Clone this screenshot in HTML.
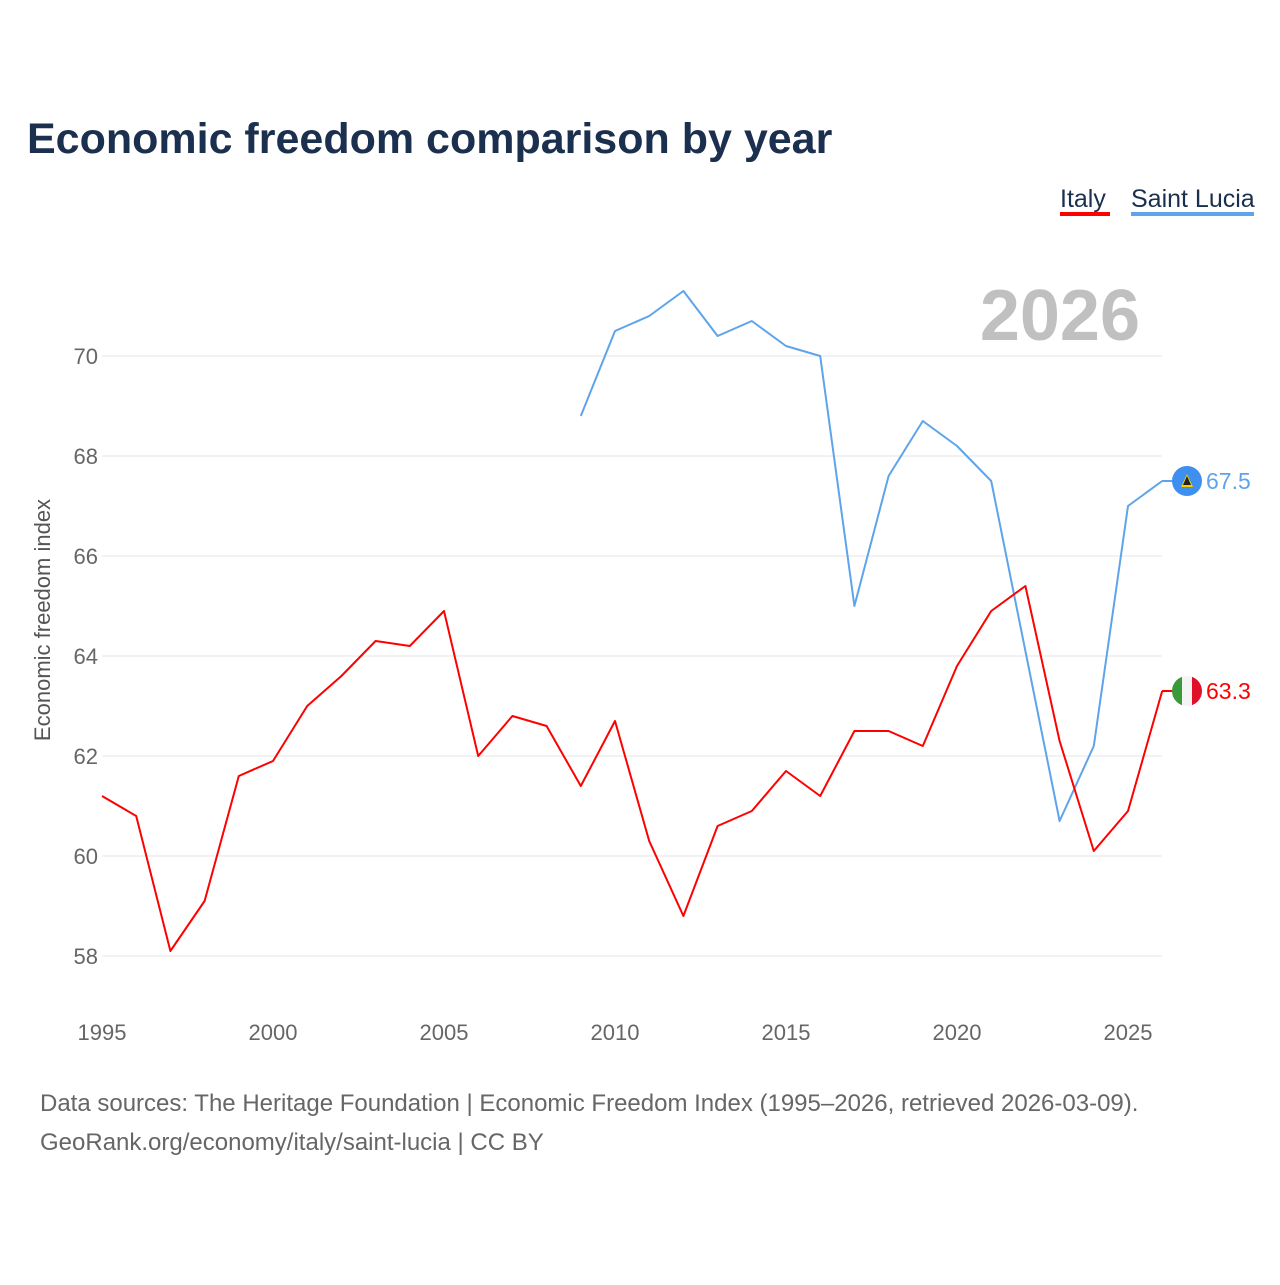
<!DOCTYPE html>
<html><head><meta charset="utf-8">
<style>
body{margin:0;background:#fff;font-family:"Liberation Sans",sans-serif;}
svg text{font-family:"Liberation Sans",sans-serif;}
</style></head>
<body>
<svg width="1280" height="1280" viewBox="0 0 1280 1280" id="chart">
<defs><clipPath id="itclip"><circle id="itclipc" cx="1187" cy="691" r="15"/></clipPath></defs>
<rect width="1280" height="1280" fill="#fff"/>
<text x="27" y="153" font-size="43" font-weight="bold" fill="#1b2f4e">Economic freedom comparison by year</text>
<g>
<text x="1060" y="207" font-size="25" fill="#1b2f4e">Italy</text>
<rect x="1060" y="212" width="50" height="4" fill="#ff0000"/>
</g>
<g>
<text x="1131" y="207" font-size="25" fill="#1b2f4e">Saint Lucia</text>
<rect x="1131" y="212" width="123" height="4" fill="#5ea4ea"/>
</g>
<text x="1140" y="340" font-size="72" font-weight="bold" fill="#c0c0c0" text-anchor="end">2026</text>
<g id="grid"></g>
<g id="xticks"></g>
<g id="series"></g>
<text transform="translate(50,620) rotate(-90)" font-size="22" fill="#555" text-anchor="middle">Economic freedom index</text>
<text x="40" y="1111" font-size="24" fill="#666">Data sources: The Heritage Foundation | Economic Freedom Index (1995–2026, retrieved 2026-03-09).</text>
<text x="40" y="1150" font-size="24" fill="#666">GeoRank.org/economy/italy/saint-lucia | CC BY</text>
</svg>
<script>
const years = [1995,1996,1997,1998,1999,2000,2001,2002,2003,2004,2005,2006,2007,2008,2009,2010,2011,2012,2013,2014,2015,2016,2017,2018,2019,2020,2021,2022,2023,2024,2025,2026];
const italy = [61.2,60.8,58.1,59.1,61.6,61.9,63.0,63.6,64.3,64.2,64.9,62.0,62.8,62.6,61.4,62.7,60.3,58.8,60.6,60.9,61.7,61.2,62.5,62.5,62.2,63.8,64.9,65.4,62.3,60.1,60.9,63.3];
const saintLucia = [null,null,null,null,null,null,null,null,null,null,null,null,null,null,68.8,70.5,70.8,71.3,70.4,70.7,70.2,70.0,65.0,67.6,68.7,68.2,67.5,64.1,60.7,62.2,67.0,67.5];
const yTicks = [58,60,62,64,66,68,70];
const xTicks = [1995,2000,2005,2010,2015,2020,2025];
const NS="http://www.w3.org/2000/svg";
const x = yr => 102 + (yr-1995)*(1026/30);
const y = v => 956 - (v-58)*50;
function mk(tag, attrs, parent){const e=document.createElementNS(NS,tag);for(const k in attrs)e.setAttribute(k,attrs[k]);parent.appendChild(e);return e;}
const grid=document.getElementById('grid');
yTicks.forEach(t=>{
  const l=mk('line',{x1:102,x2:1162,y1:y(t),y2:y(t),stroke:'#e6e6e6','stroke-width':1},grid);
  
  
  const tx=mk('text',{x:98,y:y(t)+8,'font-size':22,fill:'#666','text-anchor':'end'},grid);
  tx.textContent=t;
  
  
});
const xg=document.getElementById('xticks');
xTicks.forEach(t=>{
  const tx=mk('text',{x:x(t),y:1040,'font-size':22,fill:'#666','text-anchor':'middle'},xg);
  tx.textContent=t;
  
  
});
const sg=document.getElementById('series');
function line(vals,color,name){
  let d='';let started=false;
  vals.forEach((v,i)=>{if(v==null)return;d+=(started?'L':'M')+x(years[i]).toFixed(1)+','+y(v).toFixed(1);started=true;});
  const p=mk('path',{d:d,fill:'none',stroke:color,'stroke-width':2,'stroke-linejoin':'round'},sg);
  
  
}
line(saintLucia,'#5ea4ea','series-saint-lucia');
line(italy,'#ff0000','series-italy');
function endLabel(vals,color,name,flag){
  const v=vals[vals.length-1];const cy=y(v);
  const g=mk('g',{},sg);
  
  
  mk('line',{x1:1162,x2:1175,y1:cy,y2:cy,stroke:color,'stroke-width':2},g);
  if(flag==='it'){
    document.getElementById('itclipc').setAttribute('cy',cy);
    const fg=mk('g',{'clip-path':'url(#itclip)'},g);
    mk('rect',{x:1172,y:cy-15,width:10,height:30,fill:'#3a9a3a'},fg);
    mk('rect',{x:1182,y:cy-15,width:10,height:30,fill:'#f4f4f4'},fg);
    mk('rect',{x:1192,y:cy-15,width:10,height:30,fill:'#e0102a'},fg);
  } else {
    mk('circle',{cx:1187,cy:cy,r:15,fill:'#3f8ff0'},g);
    mk('polygon',{points:`1187,${cy-7} 1193,${cy+6} 1181,${cy+6}`,fill:'#f5d000'},g);
    mk('polygon',{points:`1187,${cy-5} 1191,${cy+4} 1183,${cy+4}`,fill:'#222'},g);
  }
  const t=mk('text',{x:1206,y:cy+8,'font-size':23,fill:color},g);
  t.textContent=v.toFixed(1);
}
endLabel(saintLucia,'#5ea4ea','end-label-saint-lucia','lc');
endLabel(italy,'#ff0000','end-label-italy','it');
</script>
</body></html>
